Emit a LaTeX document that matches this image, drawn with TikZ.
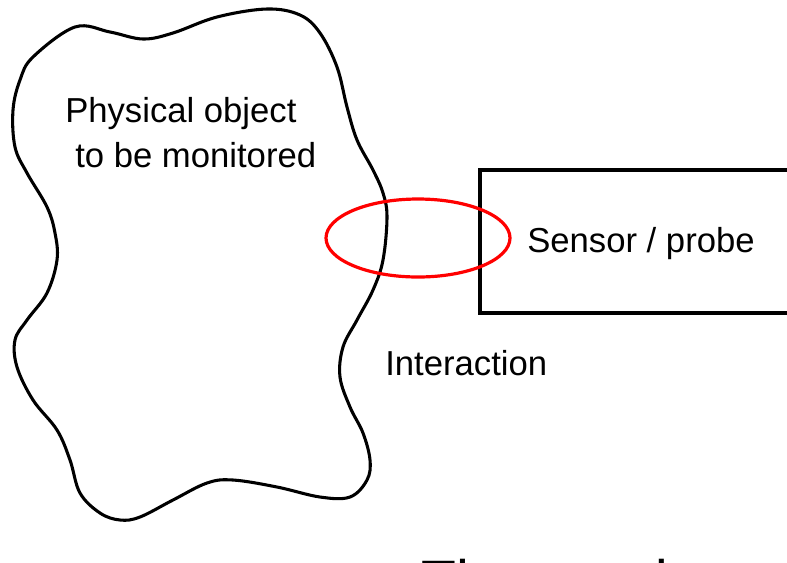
\documentclass[tikz,border=0pt]{standalone}
\usepackage{fontspec}
\setmainfont{Liberation Sans}
\begin{document}
\begin{tikzpicture}[x=0.75pt,y=-0.75pt,
  outline/.style={draw=black,line width=2.3pt},
  label/.style={anchor=base west,inner sep=0pt,font=\fontsize{26}{31}\selectfont},
  ring/.style={draw=red,line width=2.4pt}]
\useasboundingbox (0,0) rectangle (787,562);
\begin{scope}
\clip (0,0) rectangle (787,562);
% physical object blob
\draw[outline] plot[smooth cycle,tension=0.6] coordinates {
(75,27) (110,32) (143,39) (173,33) (217,17) (267,9) (300,15) (320,33)
(337,67) (347,107) (357,140) (373,170) (383,193) (387,217) (383,260)
(373,290) (357,320) (343,347) (340,377) (350,407) (363,433) (370,460)
(367,480) (350,497) (320,497) (277,487) (233,480) (207,483) (173,500)
(140,517) (120,520) (100,513) (80,493) (70,460) (57,430) (33,400)
(17,367) (15,340) (27,320) (47,293) (57,260) (55,233) (47,207) (27,173)
(15,147) (13,110) (20,80) (33,57)};
% sensor box
\coordinate (boxtl) at (480,170);
\coordinate (boxbr) at (800,313);
\draw[outline,line width=2.3pt] (boxtl) rectangle (boxbr);
\node[label] (obj1) at (65,122) {Physical object};
\node[label] (obj2) at (75,167) {to be monitored};
\node[label] (sensor) at (527,252) {Sensor / probe};
\node[label] (inter) at (385,375) {Interaction};
\node[anchor=base west,inner sep=0pt,font=\fontsize{42.75}{50}\selectfont] (bottom) at (421,600.5) {The sensing};
% interaction ring
\draw[ring] (418,238) ellipse [x radius=92,y radius=39];
\end{scope}
\end{tikzpicture}
\end{document}
